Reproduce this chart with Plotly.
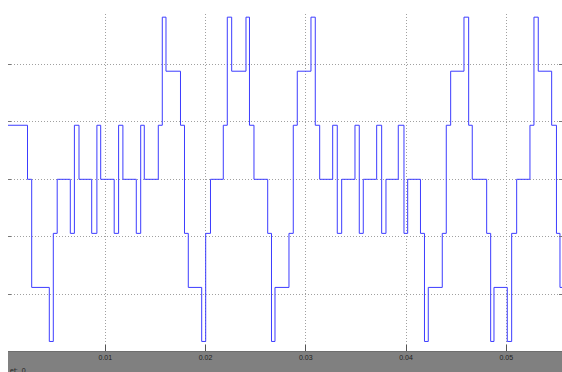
import plotly.graph_objects as go

times = [0.0, 0.002239, 0.002658, 0.004414, 0.004813, 0.005202, 0.006509, 0.006918,
         0.007377, 0.008643, 0.009162, 0.009541, 0.010888, 0.011327, 0.011756, 0.013092,
         0.013531, 0.013890, 0.015287, 0.015686, 0.016055, 0.017501, 0.017900, 0.018279,
         0.019616, 0.020015, 0.020494, 0.021771, 0.022170, 0.022608, 0.024035, 0.024384,
         0.024833, 0.026200, 0.026579, 0.026928, 0.028324, 0.028753, 0.029152, 0.030519,
         0.030948, 0.031387, 0.032683, 0.033142, 0.033581, 0.034908, 0.035337, 0.035736,
         0.037072, 0.037571, 0.038000, 0.039227, 0.039796, 0.040165, 0.041441, 0.041840,
         0.042219, 0.043616, 0.044015, 0.044454, 0.045781, 0.046249, 0.046608, 0.048045,
         0.048444, 0.048773, 0.050100, 0.050539, 0.051037, 0.052364, 0.052763, 0.053192,
         0.054529, 0.055007, 0.055357, 0.055600]
levels = [94, 0, -188, -282, -94, 0, -94, 94,
          0, -94, 94, 0, -94, 94, 0, -94,
          94, 0, 94, 282, 188, 94, -94, -188,
          -282, -94, 0, 94, 282, 188, 282, 94,
          0, -94, -282, -188, -94, 94, 188, 282,
          94, 0, 94, -94, 0, 94, -94, 0,
          94, -94, 0, 94, -94, 0, -94, -282,
          -188, -94, 94, 188, 282, 94, 0, -94,
          -282, -188, -282, -94, 0, 94, 282, 188,
          94, -94, -188, -188]

x_tick_vals = [0.01, 0.02, 0.03, 0.04, 0.05]
x_tick_text = ["0.01", "0.02", "0.03", "0.04", "0.05"]
y_grid_vals = [-200, -100, 0, 100, 200]

fig = go.Figure()
fig.add_trace(go.Scatter(
    x=times, y=levels, mode="lines",
    line=dict(color="#3c3cff", width=1, shape="hv"),
    showlegend=False, hoverinfo="skip",
))

grid = "#a0a0a0"
fig.update_layout(
    width=562, height=372,
    margin=dict(l=8, r=0, t=14, b=21),
    paper_bgcolor="white", plot_bgcolor="white",
    showlegend=False,
    xaxis=dict(
        range=[0.000294, 0.05556],
        tickvals=x_tick_vals, ticktext=x_tick_text,
        ticks="inside", ticklen=6, tickcolor="#555555", tickwidth=1,
        showgrid=True, gridcolor=grid, griddash="1px,2px", gridwidth=1,
        showline=True, linecolor="#6e6e6e", linewidth=1,
        zeroline=False,
        tickfont=dict(family="Liberation Sans", size=7, color="#222222"),
    ),
    yaxis=dict(
        range=[-298.6, 287.5],
        tickvals=y_grid_vals, showticklabels=False,
        ticks="inside", ticklen=3, tickcolor="#777777", tickwidth=1,
        mirror="ticks",
        showgrid=True, gridcolor=grid, griddash="1px,2px", gridwidth=1,
        showline=False, zeroline=False,
    ),
    shapes=[dict(
        type="rect", xref="paper", yref="paper",
        x0=0, x1=1, y0=-0.2, y1=0,
        fillcolor="#808080", line=dict(width=0), layer="below",
    )],
    annotations=[dict(
        text="et:  0", xref="paper", yref="paper",
        x=0, y=-0.0593, xanchor="left", yanchor="middle",
        showarrow=False,
        font=dict(family="Liberation Sans", size=7, color="#222222"),
    )],
)

fig.write_html(
    "out.html",
    config={"displayModeBar": False},
    post_script="document.body.style.margin='0';document.body.style.overflow='hidden';",
)
